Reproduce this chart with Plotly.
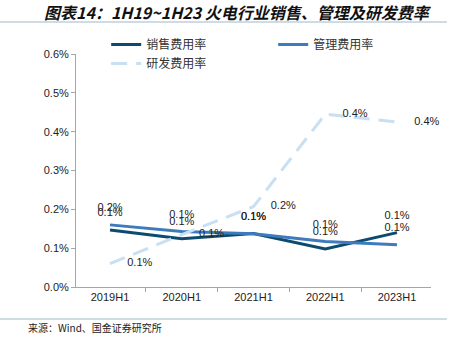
import plotly.graph_objects as go

categories = ["2019H1", "2020H1", "2021H1", "2022H1", "2023H1"]
sales_rate = [0.00147, 0.00124, 0.00138, 0.00098, 0.00140]
admin_rate = [0.00160, 0.00143, 0.00137, 0.00117, 0.00109]
rd_rate = [0.00060, 0.00135, 0.00207, 0.00445, 0.00425]
y_ticks = [0, 0.001, 0.002, 0.003, 0.004, 0.005, 0.006]

FONT = "Liberation Sans, Arial, Noto Sans CJK SC"
CJK = "Noto Sans CJK SC, Liberation Sans"

fig = go.Figure()
fig.add_trace(go.Scatter(
    x=categories, y=sales_rate, name="销售费用率",
    mode="lines+markers+text", cliponaxis=False,
    line=dict(color="#0d4a70", width=3),
    marker=dict(size=16, color="rgba(0,0,0,0)"),
    texttemplate="%{y:.1%}", textposition="top center",
    textfont=dict(family=FONT, size=11, color="#222"),
))
fig.add_trace(go.Scatter(
    x=categories, y=admin_rate, name="管理费用率",
    mode="lines+markers+text", cliponaxis=False,
    line=dict(color="#3d7bbd", width=3),
    marker=dict(size=16, color="rgba(0,0,0,0)"),
    texttemplate="%{y:.1%}", textposition="top center",
    textfont=dict(family=FONT, size=11, color="#222"),
))
fig.add_trace(go.Scatter(
    x=categories, y=rd_rate, name="研发费用率",
    mode="lines+markers+text", cliponaxis=False,
    line=dict(color="#c9dff2", width=3, dash="16px,9px"),
    marker=dict(size=26, color="rgba(0,0,0,0)"),
    texttemplate="%{y:.1%}", textposition="middle right",
    textfont=dict(family=FONT, size=11, color="#222"),
))

fig.update_layout(
    width=467, height=343,
    margin=dict(l=76, r=36, t=54, b=56),
    paper_bgcolor="white", plot_bgcolor="white",
    font=dict(family=FONT, size=11, color="#222"),
    showlegend=True,
    legend=dict(
        orientation="h", x=0.085, xanchor="left", y=1.17, yanchor="top",
        font=dict(family=CJK, size=12, color="#333"),
        entrywidth=122, tracegroupgap=0, bgcolor="rgba(0,0,0,0)",
    ),
    xaxis=dict(
        showline=True, linecolor="#a6a6a6", linewidth=1,
        ticks="outside", ticklen=4, tickcolor="#a6a6a6",
        tickson="boundaries", showgrid=False, zeroline=False,
        tickfont=dict(family=FONT, size=11, color="#222"),
    ),
    yaxis=dict(
        range=[0, 0.006], tickvals=y_ticks, tickformat=".1%",
        showline=True, linecolor="#a6a6a6", linewidth=1,
        ticks="outside", ticklen=4, tickcolor="#a6a6a6",
        showgrid=False, zeroline=False,
        tickfont=dict(family=FONT, size=11, color="#222"),
    ),
    annotations=[
        dict(text="<b><i>图表14：1H19~1H23 火电行业销售、管理及研发费率</i></b>",
             xref="paper", yref="paper", x=-0.095, y=1.0, yanchor="middle",
             xanchor="left", showarrow=False,
             font=dict(family=CJK, size=16, color="#111")),
        dict(text="来源：Wind、国金证券研究所", xref="paper", yref="paper",
             x=-0.14, y=-0.185, xanchor="left", yanchor="middle", showarrow=False,
             font=dict(family=CJK, size=10, color="#222")),
    ],
    shapes=[
        dict(type="line", xref="paper", yref="paper", x0=-0.214, x1=1.045,
             y0=1.0, y1=1.0, line=dict(color="#9db8cc", width=1)),
        dict(type="line", xref="paper", yref="paper", x0=-0.214, x1=1.045,
             y0=-0.137, y1=-0.137, line=dict(color="#9db8cc", width=1)),
    ],
)

plot_h = 343 - 54 - 56
def py(pix):
    return (343 - 56 - pix) / plot_h
fig.layout.annotations[0].y = py(12)
fig.layout.annotations[1].y = py(327)
fig.layout.shapes[0].y0 = fig.layout.shapes[0].y1 = py(22)
fig.layout.shapes[1].y0 = fig.layout.shapes[1].y1 = py(319)
fig.layout.legend.y = py(30)

fig.write_html("out.html")
